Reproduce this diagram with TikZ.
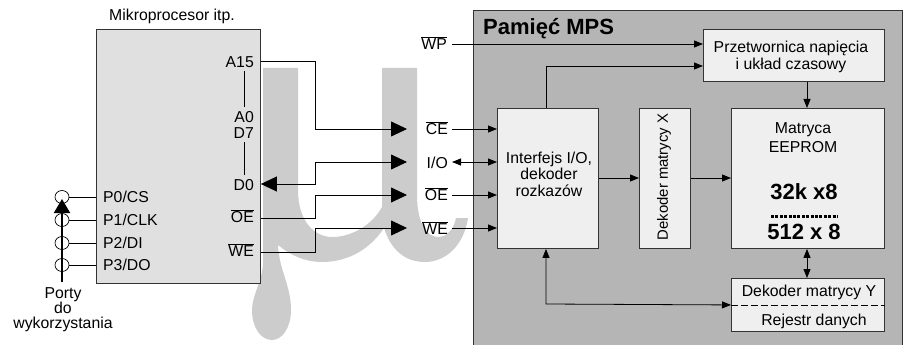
\documentclass[tikz,border=0pt]{standalone}
\usepackage{fontspec}
\setmainfont{Liberation Sans}
\usetikzlibrary{arrows.meta,shapes.geometric}
\definecolor{mucolor}{HTML}{CCCCCC}
\definecolor{micfill}{HTML}{E0E0E0}
\definecolor{mpsfill}{HTML}{B5B5B5}
\definecolor{blkfill}{HTML}{EFEFEF}
\tikzset{
  txt/.style={inner sep=0pt,font=\fontsize{15.8}{16.5}\selectfont,align=center},
  bold/.style={txt,font=\bfseries\fontsize{22}{24}\selectfont},
  pin/.style={txt,anchor=east},
  block/.style={draw=black!80,line width=0.9pt,fill=blkfill,anchor=north west,inner sep=0pt},
  wire/.style={line width=0.8pt,-{Triangle[length=9pt,width=7pt]}},
  wirebb/.style={line width=0.8pt,{Triangle[length=9pt,width=7pt]}-{Triangle[length=9pt,width=7pt]}},
  bus/.style={line width=0.8pt,-{Triangle[length=16pt,width=15pt]}},
  busbb/.style={line width=0.8pt,{Triangle[length=16pt,width=15pt]}-{Triangle[length=16pt,width=15pt]}},
  port/.style={draw,line width=0.7pt,ellipse,minimum width=14pt,minimum height=13pt,inner sep=0pt},
}
\begin{document}
\begin{tikzpicture}[x=1pt,y=-1pt]
    \useasboundingbox (0,0) rectangle (906,345);
    % watermark
    \fill[mucolor] (263,68) -- (298,68) -- (298,190)
      .. controls (298,222) and (315,237) .. (332,237)
      .. controls (352,237) and (372,225) .. (382,207)
      -- (382,68) -- (417,68) -- (417,195)
      .. controls (417,225) and (428,237) .. (438,237)
      .. controls (448,237) and (454,228) .. (456,218)
      -- (468,218)
      .. controls (464,245) and (446,262) .. (425,262)
      .. controls (405,262) and (391,250) .. (384,228)
      .. controls (368,252) and (345,262) .. (322,262)
      .. controls (305,262) and (290,255) .. (278,245)
      .. controls (279,270) and (291,285) .. (291,310)
      .. controls (291,328) and (282,340) .. (272,340)
      .. controls (261,340) and (252,328) .. (252,310)
      .. controls (252,295) and (263,280) .. (263,262) -- cycle;
    % blocks
    \node[block,fill=micfill,minimum width=164pt,minimum height=254pt] (mic) at (96,29) {};
    \node[txt,anchor=south] (mictitle) at (172,24) {Mikroprocesor itp.};
    \node[block,fill=mpsfill,minimum width=429pt,minimum height=340pt] (mps) at (473,10) {};
    \node[bold,anchor=west] (mpstitle) at (483,29) {Pamięć MPS};
    \node[block,minimum width=181pt,minimum height=52pt] (conv) at (703,29) {};
    \node[txt] (convlbl) at (791,57) {Przetwornica napięcia\\i układ czasowy};
    \node[block,minimum width=101pt,minimum height=140pt] (ifc) at (497,108) {};
    \node[txt] (ifclbl) at (549,174) {Interfejs I/O,\\dekoder\\rozkazów};
    \node[block,minimum width=51pt,minimum height=140pt] (decx) at (639,108) {};
    \node[txt,rotate=90,font=\fontsize{14.9}{16}\selectfont] (decxlbl) at (664,177) {Dekoder matrycy X};
    \node[block,minimum width=153pt,minimum height=140pt] (arr) at (731,108) {};
    \node[txt] (arrlbl) at (803,138) {Matryca\\[2.5pt]EEPROM};
    \node[bold] (size) at (804,192) {32k x8};
    \node[bold] (page) at (804,232) {512 x 8};
    \draw[line width=3pt,dash pattern=on 3pt off 1.4pt] (771,216) -- (838,216);
    \node[block,minimum width=153pt,minimum height=53pt] (decy) at (731,278) {};
    \node[txt] (decylbl) at (809,292) {Dekoder matrycy Y};
    \node[txt] (reglbl) at (814,321) {Rejestr danych};
    \draw[dash pattern=on 7pt off 3pt,line width=0.7pt] (decy.west) -- (decy.east);
    % pins of the processor
    \node[pin] (a15) at (254,62) {A15};
    \node[pin] (a0) at (254,117) {A0};
    \node[pin] (d7) at (254,133) {D7};
    \node[pin] (d0) at (254,185) {D0};
    \node[pin] (oe) at (254,216) {$\overline{\mbox{OE}}$};
    \node[pin] (we) at (254,250) {$\overline{\mbox{WE}}$};
    \draw[line width=0.7pt] (244,71) -- (244,107);
    \draw[line width=0.7pt] (244,142) -- (244,175);
    % ports
    \foreach \y/\n/\t in {197/0/{P0/CS},220/1/{P1/CLK},243/2/{P2/DI},265/3/{P3/DO}} {%
      \node[txt,anchor=west] (pl\n) at (103,\y) {\t};
      \node[port] (pc\n) at (62,\y) {};
      \draw[line width=0.7pt] (pc\n) -- (mic.west |- pc\n);
    }
    \coordinate (portfoot) at (62,282);
    \draw[line width=2pt,-{Triangle[length=14pt,width=16pt]}] (portfoot) -- (62,199);
    \node[txt] (portlbl) at (63,310) {Porty\\[-1.5pt]do\\[-1.5pt]wykorzystania};
    % signals
    \node[pin] (sce) at (448,128) {$\overline{\mbox{CE}}$};
    \node[pin] (sio) at (448,163) {I/O};
    \node[pin] (soe) at (448,194) {$\overline{\mbox{OE}}$};
    \node[pin] (swe) at (448,228) {$\overline{\mbox{WE}}$};
    \node[pin] (swp) at (447,43) {$\overline{\mbox{WP}}$};
    \coordinate (tce) at (407,129);
    \coordinate (tio) at (407,162);
    \coordinate (toe) at (407,195);
    \coordinate (twe) at (407,228);
    \coordinate (fce) at (452,129);
    \coordinate (fio) at (452,162);
    \coordinate (foe) at (452,195);
    \coordinate (fwe) at (452,228);
    \coordinate (fwp) at (452,44);
    \draw[bus] (mic.east |- 0,61) -- (315,61) -- (315,129) -- (tce);
    \draw[busbb] (mic.east |- 0,184) -- (315,184) -- (315,162) -- (tio);
    \draw[bus] (mic.east |- 0,218) -- (315,218) -- (315,195) -- (toe);
    \draw[bus] (mic.east |- 0,252) -- (315,252) -- (315,228) -- (twe);
    \draw[wire] (fce) -- (ifc.west |- fce);
    \draw[wirebb] (fio) -- (ifc.west |- fio);
    \draw[wire] (foe) -- (ifc.west |- foe);
    \draw[wire] (fwe) -- (ifc.west |- fwe);
    \draw[wire] (fwp) -- (conv.west |- fwp);
    \draw[wire] (ifc.north -| 546,0) -- (546,66) -- (conv.west |- 0,66);
    \draw[wire] (ifc.east |- 0,178) -- (decx.west |- 0,178);
    \draw[wire] (decx.east |- 0,178) -- (arr.west |- 0,178);
    \draw[wire] (conv.south -| 807,0) -- (arr.north -| 807,0);
    \draw[wirebb] (arr.south -| 807,0) -- (decy.north -| 807,0);
    \draw[wirebb] (ifc.south -| 546,0) -- (546,304) -- (decy.west);
\end{tikzpicture}
\end{document}
